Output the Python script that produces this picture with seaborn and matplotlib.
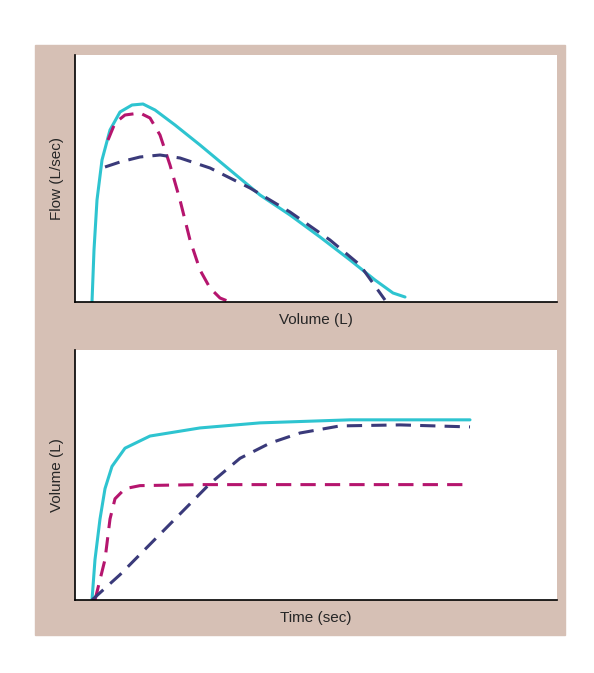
import matplotlib
matplotlib.use("Agg")
import matplotlib.pyplot as plt
import seaborn as sns
import pandas as pd

# Flow-volume curves (arbitrary units)
fv_x_normal = [17, 19, 22, 27, 35, 45, 57, 68, 80, 100, 125, 155, 185, 215, 245, 275, 300, 318, 330]
fv_y_normal = [0, 52, 102, 142, 172, 190, 197, 198, 192, 177, 157, 132, 107, 87, 65, 42, 22, 9, 5]
fv_x_obstr = [30, 45, 65, 85, 105, 135, 175, 215, 255, 285, 310]
fv_y_obstr = [135, 140, 145, 147, 144, 134, 114, 90, 62, 37, 2]
fv_x_restr = [33, 40, 50, 65, 75, 85, 95, 105, 115, 125, 135, 145, 155]
fv_y_restr = [162, 179, 187, 189, 184, 167, 137, 102, 62, 32, 14, 4, 0]

# Volume-time curves
vt_x_normal = [17, 20, 25, 30, 37, 50, 75, 125, 185, 275, 395]
vt_y_normal = [0, 40, 80, 110, 132, 150, 162, 170, 175, 178, 178]
vt_x_restr = [20, 30, 35, 40, 50, 65, 125, 395]
vt_y_restr = [0, 40, 80, 100, 110, 113, 114, 114]
vt_x_obstr = [17, 45, 75, 105, 135, 165, 195, 225, 265, 325, 395]
vt_y_obstr = [0, 25, 55, 85, 115, 140, 155, 165, 172, 173, 171]

CYAN = "#2ec4d0"
MAGENTA = "#b5156e"
NAVY = "#3a3a7a"
TAN = "#d6c0b5"

sns.set_style("white")
plt.rcParams['font.family'] = ['Liberation Sans', 'DejaVu Sans']

fig = plt.figure(figsize=(5.94, 6.73), dpi=100)
fig.patches.append(plt.Rectangle((35 / 594, 1 - 635 / 673), 530 / 594, 590 / 673,
                                 transform=fig.transFigure, color=TAN, zorder=-5))

ax1 = fig.add_axes([75 / 594, 1 - 302 / 673, 482 / 594, 247 / 673])
ax2 = fig.add_axes([75 / 594, 1 - 600 / 673, 482 / 594, 250 / 673])


def draw(ax, x, y, color, dashed):
    df = pd.DataFrame({"x": x, "y": y})
    sns.lineplot(data=df, x="x", y="y", ax=ax, color=color, lw=2.2,
                 linestyle=(0, (5, 3)) if dashed else "-", sort=False, estimator=None)


draw(ax1, fv_x_normal, fv_y_normal, CYAN, False)
draw(ax1, fv_x_restr, fv_y_restr, MAGENTA, True)
draw(ax1, fv_x_obstr, fv_y_obstr, NAVY, True)
draw(ax2, vt_x_normal, vt_y_normal, CYAN, False)
draw(ax2, vt_x_restr, vt_y_restr, MAGENTA, True)
draw(ax2, vt_x_obstr, vt_y_obstr, NAVY, True)

for ax, xl, yl in [(ax1, "Volume (L)", "Flow (L/sec)"), (ax2, "Time (sec)", "Volume (L)")]:
    ax.set_xlim(0, 482)
    ax.set_ylim(0, 247)
    ax.set_xticks([])
    ax.set_yticks([])
    ax.set_xlabel(xl, fontsize=11, labelpad=8)
    ax.set_ylabel(yl, fontsize=11, labelpad=8)
    for s in ["top", "right"]:
        ax.spines[s].set_visible(False)
    for s in ["left", "bottom"]:
        ax.spines[s].set_color("black")
        ax.spines[s].set_linewidth(1.2)

fig.savefig("out.png", dpi=100)
